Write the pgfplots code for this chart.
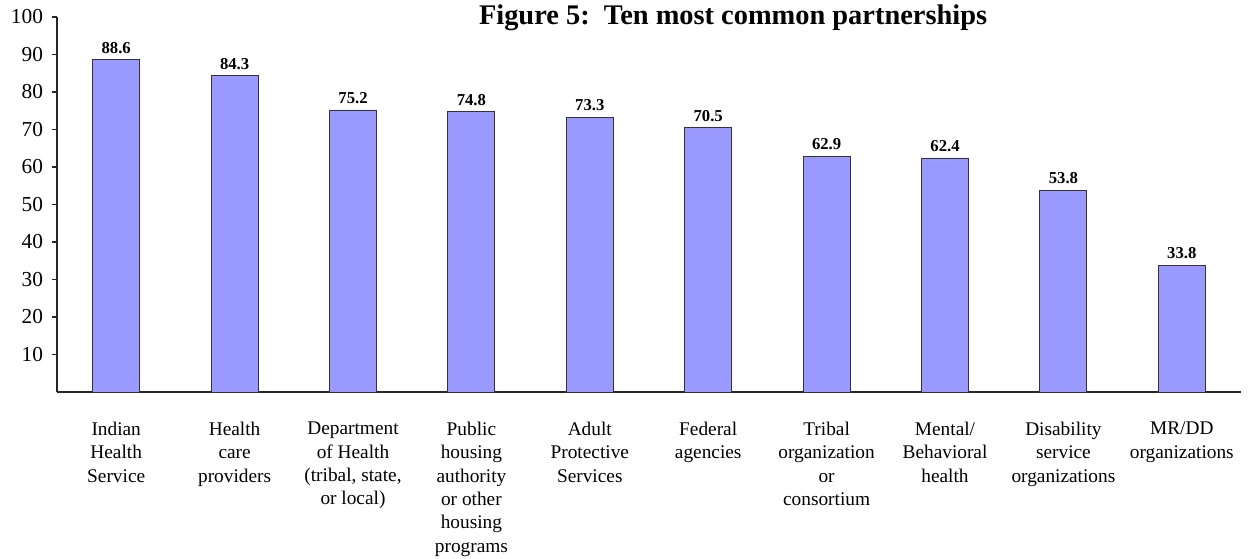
\documentclass[border=0pt]{standalone}
\usepackage{fontspec}
\setmainfont{Liberation Serif}
\usepackage{pgfplots}
\pgfplotsset{compat=1.18}
\definecolor{barblue}{HTML}{9999FF}

\begin{document}
\begin{tikzpicture}
\begin{axis}[
    name=ax,
    scale only axis,
    clip=false,
    width=888pt, height=281.25pt,
    xmin=-0.5, xmax=9.5,
    ymin=0, ymax=100,
    axis lines*=left,
    axis line style={black!85, line width=0.8pt},
    tick align=outside,
    ytick={10,20,...,100},
    major tick length=4pt,
    y tick style={black!85, line width=0.8pt},
    xtick={0,...,9},
    x tick style={draw=none},
    extra x ticks={-0.5,9.5},
    extra x tick labels={},
    extra x tick style={tick style={draw=black!85, line width=0.8pt}, major tick length=3pt},
    xticklabels={
        {Indian\\Health\\Service},
        {Health\\care\\providers},
        {Department\\of Health\\(tribal, state,\\or local)},
        {Public\\housing\\authority\\or other\\housing\\programs},
        {Adult\\Protective\\Services},
        {Federal\\agencies},
        {Tribal\\organization\\or\\consortium},
        {Mental/\\Behavioral\\health},
        {Disability\\service\\organizations},
        {MR/DD\\organizations}},
    xticklabel style={align=center, anchor=north, yshift=-15pt,
        font={\fontsize{14.5}{17.5}\selectfont}},
    yticklabel style={font={\fontsize{16}{18}\selectfont}, xshift=-3pt},
    /pgf/number format/assume math mode=true,
    ybar,
    bar width=35.25pt,
    nodes near coords={\pgfmathprintnumber[fixed,fixed zerofill,precision=1]{\pgfplotspointmeta}},
    nodes near coords style={font={\fontsize{12.5}{14}\selectfont\bfseries}, yshift=1pt},
]
\addplot[fill=barblue, draw=black!80, line width=0.7pt] coordinates {
    (0,88.6) (1,84.3) (2,75.2) (3,74.8) (4,73.3)
    (5,70.5) (6,62.9) (7,62.4) (8,53.8) (9,33.8)};
\node[font={\fontsize{21.3}{24}\selectfont\bfseries}, anchor=base]
    at (axis cs:5.21,98.1) {Figure 5:\ \ Ten most common partnerships};
\end{axis}
\pgfresetboundingbox
\path ([shift={(-42.75pt,-125.25pt)}]ax.south west)
    rectangle ([shift={(895.5pt,294pt)}]ax.south west);
\end{tikzpicture}
\end{document}
